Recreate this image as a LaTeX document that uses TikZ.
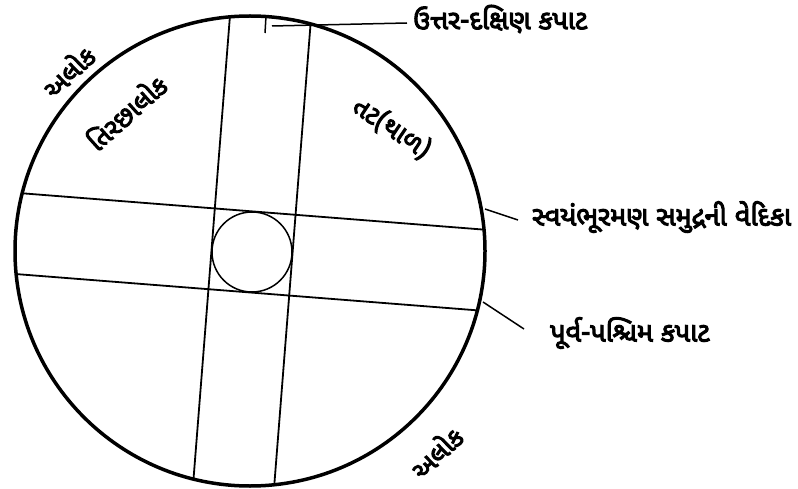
\documentclass[tikz,border=0pt]{standalone}
\usepackage{fontspec}
\newfontfamily\guj[Script=Gujarati,AutoFakeBold=4]{Noto Sans Gujarati UI}
\begin{document}
\begin{tikzpicture}[x=1pt,y=-1pt,
  lbl/.style={font=\guj\bfseries\fontsize{27}{30}\selectfont, inner sep=0pt},
  rlbl/.style={font=\guj\bfseries\fontsize{26}{30}\selectfont, inner sep=0pt},
  band/.style={line width=1.8pt},
  leader/.style={line width=1.5pt}]
\useasboundingbox (0,0) rectangle (798,489);
\coordinate (C) at (250,251);
% bands
\begin{scope}
  \clip (C) circle (235);
  \begin{scope}[shift={(252,252)},rotate=-4.5]
    \draw[band] (-40.5,-300) -- (-40.5,300);
    \draw[band] (40.5,-300) -- (40.5,300);
    \draw[band] (-300,-40.5) -- (300,-40.5);
    \draw[band] (-300,40.5) -- (300,40.5);
  \end{scope}
\end{scope}
\node[draw, circle, line width=1.5pt, minimum size=80pt, inner sep=0pt] (inner) at (252,252) {};
\node[draw, circle, line width=3.5pt, minimum size=470pt, inner sep=0pt] (outer) at (C) {};
% labels
\node[lbl, anchor=west] (ud) at (413,19) {ઉત્તર-દક્ષિણ કપાટ};
\node[lbl, anchor=west] (ved) at (532,217) {સ્વયંભૂરમણ સમુદ્રની વેદિકા};
\node[lbl, anchor=west] (pp) at (550,333) {પૂર્વ-પશ્ચિમ કપાટ};
\node[rlbl, rotate=44] (al1) at (68,71) {અલોક};
\node[rlbl, rotate=42] (tir) at (126,112) {તિરછાલોક};
\node[rlbl, rotate=-34] (tat) at (392,128) {તટ(થાળ)};
\node[rlbl, rotate=44] (al2) at (436,452) {અલોક};
% leaders
\coordinate (t1) at (266,16);
\coordinate (t2) at (265,33);
\draw[leader] (t1) -- (t2);
\coordinate (u1) at (272,26);
\coordinate (u2) at (407,23);
\draw[leader] (u1) -- (u2);
\coordinate (v1) at (485,209);
\coordinate (v2) at (518,220);
\draw[leader] (v1) -- (v2);
\coordinate (p1) at (483,302);
\coordinate (p2) at (524,329);
\draw[leader] (p1) -- (p2);
\end{tikzpicture}
\end{document}
